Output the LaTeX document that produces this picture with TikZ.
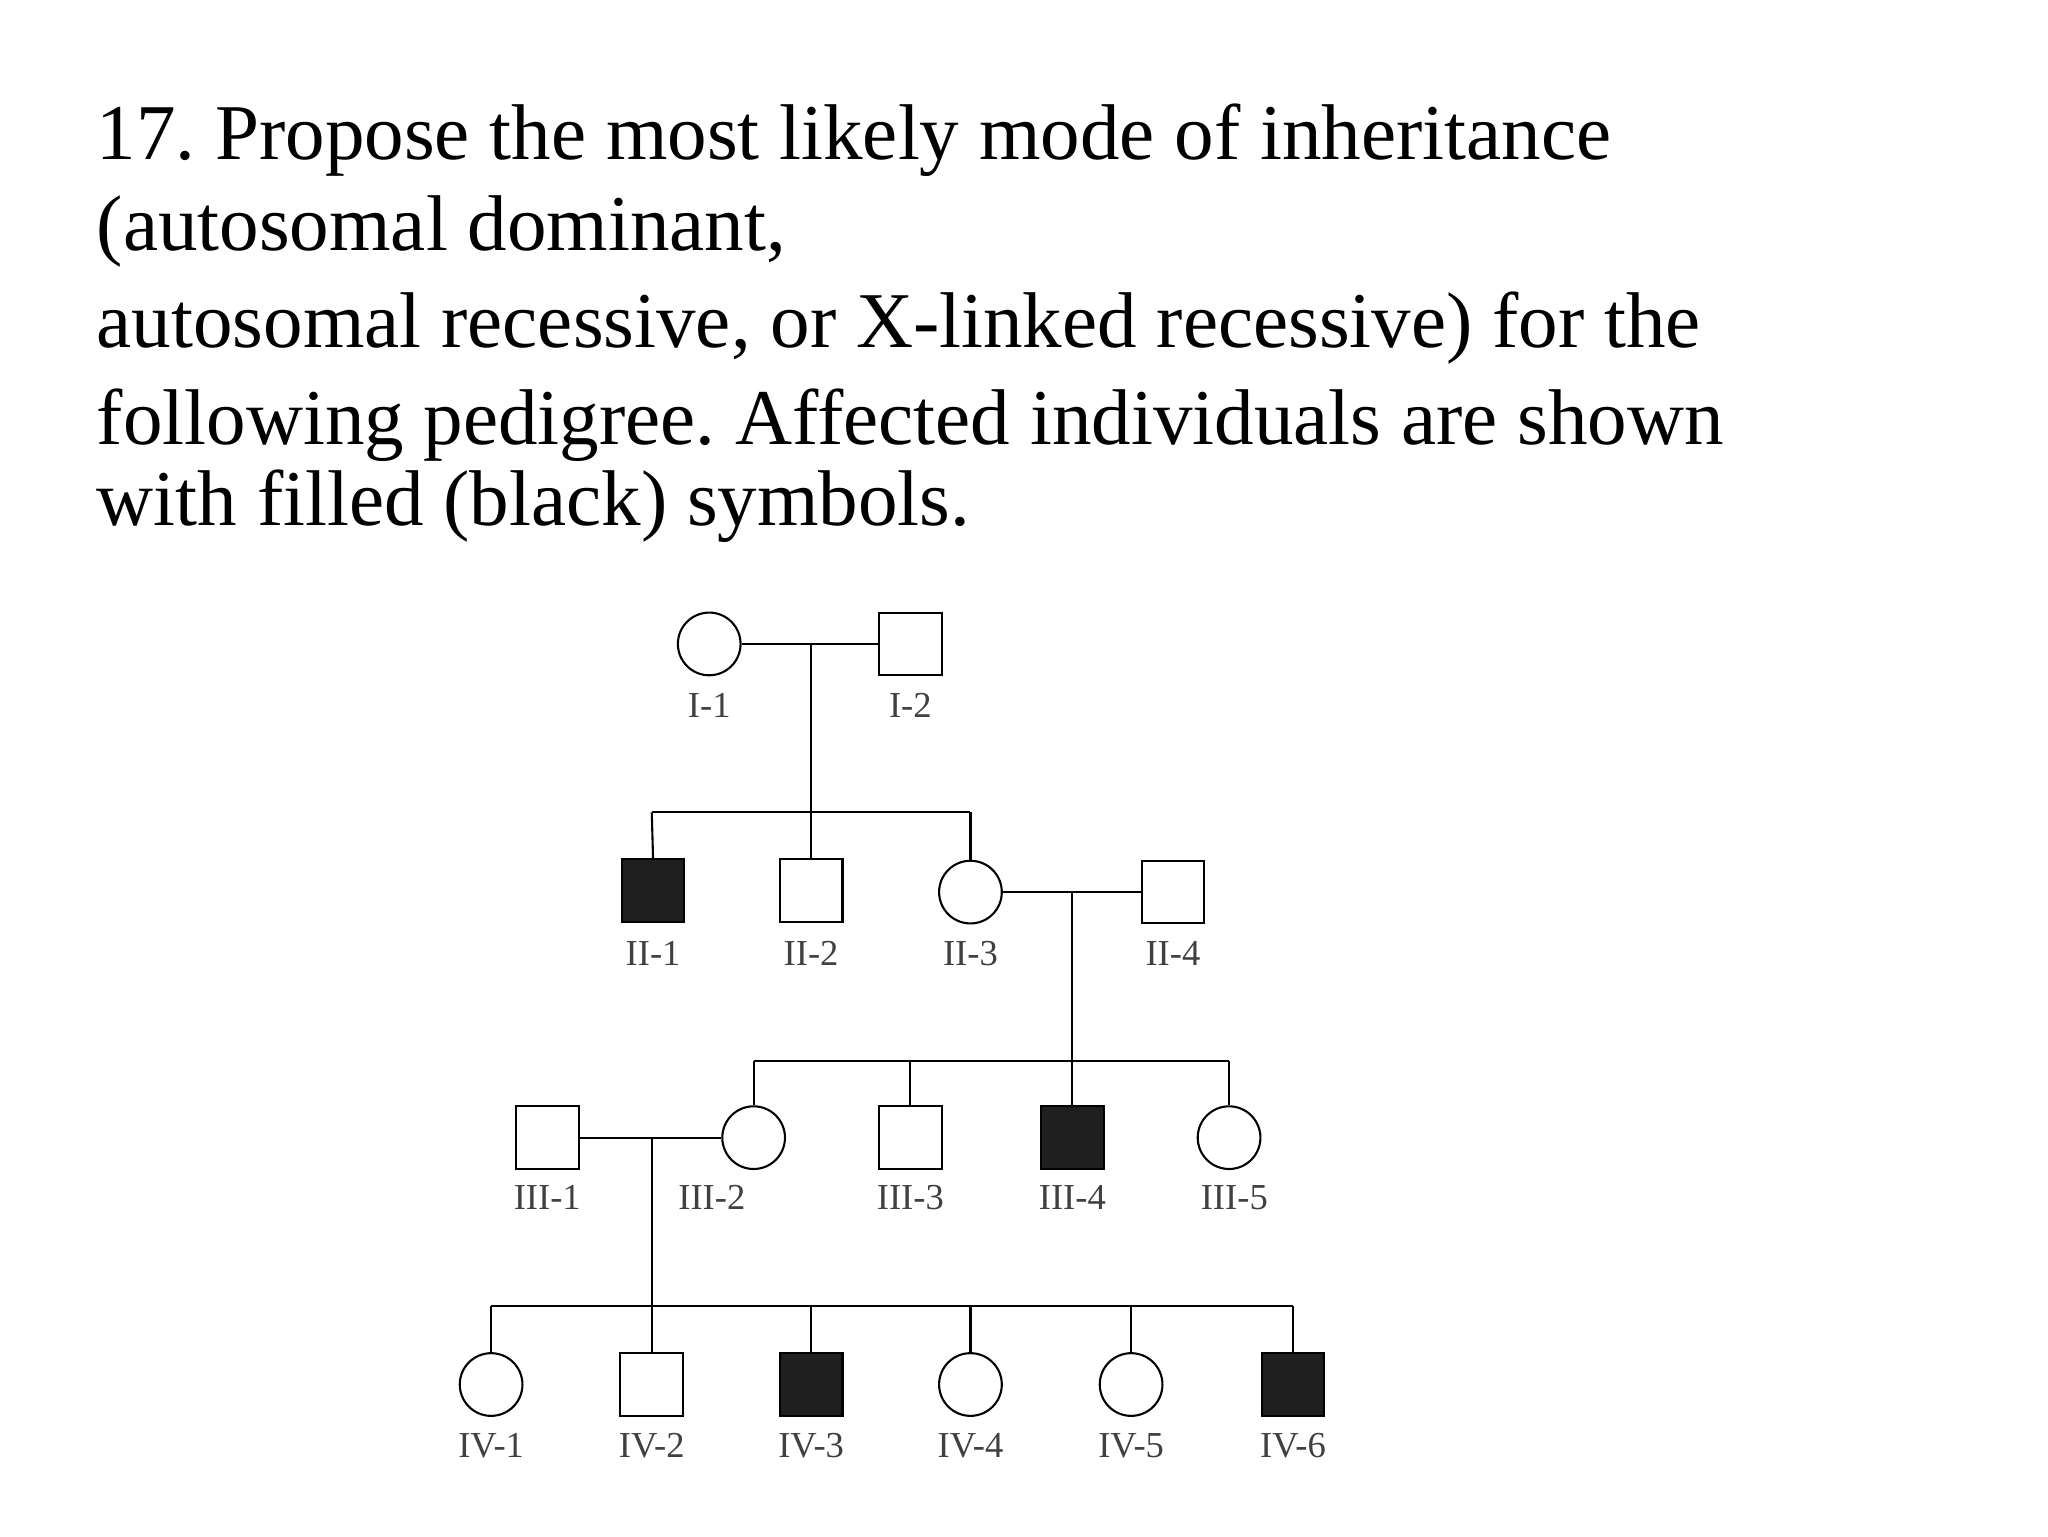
\documentclass[tikz,border=0pt]{standalone}
\usepackage{fontspec}
\setmainfont{Liberation Serif}
\frenchspacing
\begin{document}
\begin{tikzpicture}[x=1pt,y=-1pt,line width=1.6pt,
  sq/.style={draw,minimum size=48pt,inner sep=0pt},
  fsq/.style={sq,fill=black!88},
  ci/.style={draw,circle,minimum size=48pt,inner sep=0pt},
  tl/.style={anchor=base west,font=\fontsize{60.5}{60.5}\selectfont},
  lab/.style={font=\fontsize{28}{28}\selectfont,text=black!75}]
\useasboundingbox (0,0) rectangle (1568,1176);
\node[tl] (t1) at (70,122) {17. Propose the most likely mode of inheritance};
\node[tl] (t2) at (70,192) {(autosomal dominant,};
\node[tl] (t3) at (70,266) {autosomal recessive, or X-linked recessive) for the};
\node[tl] (t4) at (70,340) {following pedigree. Affected individuals are shown};
\node[tl] (t5) at (70,402) {with filled (black) symbols.};
% generation I
\node[ci] (i1) at (543,493) {}; \node[sq] (i2) at (697,493) {};
\node[lab] at (543,540) {I-1}; \node[lab] at (697,540) {I-2};
\draw (i1) -- (i2);
\coordinate (m1) at (621,493); \coordinate (s1) at (621,622);
\draw (m1) -- (s1);
\coordinate (s1a) at (499,622); \coordinate (s1b) at (743,622);
\draw (s1a) -- (s1b);
% generation II
\node[fsq] (ii1) at (500,682) {}; \node[sq] (ii2) at (621,682) {};
\node[ci] (ii3) at (743,683) {}; \node[sq] (ii4) at (898,683) {};
\draw (s1a) -- (ii1.north); \draw (s1) -- (ii2.north); \draw (s1b) -- (ii3.north);
\node[lab] at (500,730) {II-1}; \node[lab] at (621,730) {II-2};
\node[lab] at (743,730) {II-3}; \node[lab] at (898,730) {II-4};
\draw (ii3) -- (ii4);
\coordinate (m2) at (821,683); \coordinate (s2) at (821,812);
\draw (m2) -- (s2);
\coordinate (s2a) at (577,812); \coordinate (s2c) at (697,812); \coordinate (s2b) at (941,812);
\draw (s2a) -- (s2b);
% generation III
\node[sq] (iii1) at (419,871) {}; \node[ci] (iii2) at (577,871) {};
\node[sq] (iii3) at (697,871) {}; \node[fsq] (iii4) at (821,871) {};
\node[ci] (iii5) at (941,871) {};
\draw (s2a) -- (iii2.north); \draw (s2c) -- (iii3.north); \draw (s2) -- (iii4.north); \draw (s2b) -- (iii5.north);
\node[lab] at (419,917) {III-1}; \node[lab] at (545,917) {III-2};
\node[lab] at (697,917) {III-3}; \node[lab] at (821,917) {III-4};
\node[lab] at (945,917) {III-5};
\draw (iii1) -- (iii2);
\coordinate (m3) at (499,871); \coordinate (s3) at (499,1000);
\draw (m3) -- (s3);
\coordinate (s3a) at (376,1000); \coordinate (s3c) at (621,1000); \coordinate (s3d) at (743,1000);
\coordinate (s3e) at (866,1000); \coordinate (s3b) at (990,1000);
\draw (s3a) -- (s3b);
% generation IV
\node[ci] (iv1) at (376,1060) {}; \node[sq] (iv2) at (499,1060) {};
\node[fsq] (iv3) at (621,1060) {}; \node[ci] (iv4) at (743,1060) {};
\node[ci] (iv5) at (866,1060) {}; \node[fsq] (iv6) at (990,1060) {};
\draw (s3a) -- (iv1.north); \draw (s3) -- (iv2.north); \draw (s3c) -- (iv3.north);
\draw (s3d) -- (iv4.north); \draw (s3e) -- (iv5.north); \draw (s3b) -- (iv6.north);
\node[lab] at (376,1107) {IV-1}; \node[lab] at (499,1107) {IV-2};
\node[lab] at (621,1107) {IV-3}; \node[lab] at (743,1107) {IV-4};
\node[lab] at (866,1107) {IV-5}; \node[lab] at (990,1107) {IV-6};
\end{tikzpicture}
\end{document}
